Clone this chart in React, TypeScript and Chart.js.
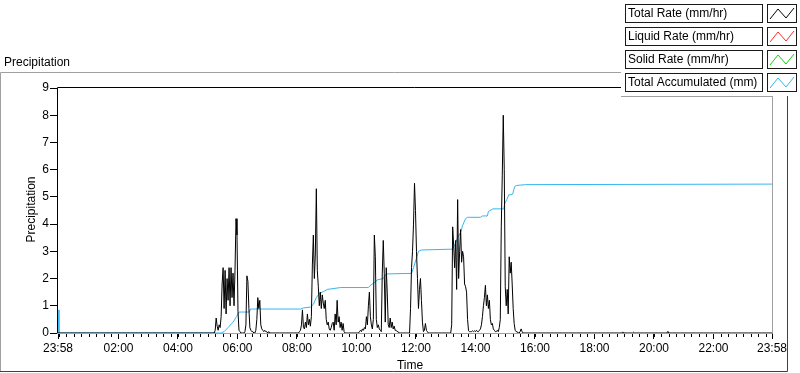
import React, { useEffect, useRef } from "react";
import { Chart, registerables } from "chart.js";

Chart.register(...registerables);

// ---------- data ----------
const SAMPLE_MINUTES = 2; // logger sample interval
const DAY_MINUTES = 1440; // x axis spans 23:58 -> 23:58 next day

const xTickMinutes = [0, 122, 242, 362, 482, 602, 722, 842, 962, 1082, 1202, 1322, 1440];
const xTickLabels = ["23:58", "02:00", "04:00", "06:00", "08:00", "10:00", "12:00", "14:00", "16:00", "18:00", "20:00", "22:00", "23:58"];
const yTickValues = [0, 1, 2, 3, 4, 5, 6, 7, 8, 9];

const seriesNames = ["Total Rate (mm/hr)", "Liquid Rate (mm/hr)", "Solid Rate (mm/hr)", "Total Accumulated (mm)"];
const seriesColors = ["#000000", "#ff2a2a", "#14d214", "#35b6f0"];

// start minute (after 23:58) of each rain burst of the total rate
const burstStarts = [315, 485, 606, 709, 790];
const burst1 = [0, 0.1, 0.55, 0.25, 0.1, 0.3, 0.2, 0.6, 1.8, 2.4, 0.9, 2.3, 0.7, 2.0, 1.2, 2.4, 1.0, 2.4, 1.3, 2.2, 1.0, 2.3, 4.2, 3.6, 0.8, 0.1, 0.05, 0, 0, 0, 0, 0.05, 0.3, 2.1, 1.9, 0.9, 0.2, 0.1, 0.05, 0.05, 0, 0, 0.1, 0.5, 1.3, 0.9, 1.2, 0.3, 0.15, 0.1, 0.05, 0.1, 0.05, 0.05, 0, 0.05, 0];
const burst2 = [0, 0.05, 0.1, 0.3, 0.85, 0.2, 0.15, 0.4, 0.2, 0.7, 0.3, 0.5, 0.25, 0.6, 2.5, 3.6, 2.0, 2.9, 5.3, 2.3, 1.7, 1.0, 1.5, 0.9, 1.4, 1.1, 0.9, 1.2, 0.5, 0.3, 0.4, 0.15, 0.1, 0.2, 0.35, 0.4, 0.1, 0.7, 0.3, 1.2, 0.4, 0.6, 0.2, 0.4, 0.1, 0.35, 0.05, 0, 0, 0, 0];
const burst3 = [0, 0.05, 0.1, 0.05, 0.15, 0.1, 0.2, 0.15, 0.6, 0.3, 1.0, 1.5, 0.6, 0.3, 0.15, 0.5, 3.6, 2.8, 0.5, 0.2, 0.3, 0.15, 0.1, 0.05, 2.2, 3.4, 2.2, 0.4, 2.4, 1.5, 0.3, 0.2, 0.55, 0.2, 0.4, 0.15, 0.25, 0.1, 0.1, 0.05, 0.05, 0, 0];
const burst4 = [0, 0.9, 2.4, 3.0, 4.0, 5.5, 4.5, 3.0, 2.0, 0.9, 1.6, 2.0, 1.2, 0.4, 0.05, 0.1, 0.35, 0.1, 0.05, 0];
const burst5 = [0, 0, 0.3, 3.9, 3.2, 2.4, 3.4, 1.6, 4.9, 2.0, 3.0, 3.8, 2.6, 3.0, 2.8, 1.8, 1.7, 1.5, 0.5, 0.08, 0.05, 0.05, 0.05, 0.08, 0.05, 0.08, 0.05, 0.1, 0.05, 0.05, 0.1, 0.15, 0.3, 0.6, 1.0, 1.3, 1.75, 1.0, 1.4, 0.9, 1.2, 0.5, 0.3, 0.35, 0.15, 0.1, 0.05, 0.05, 0.1, 0.05, 0.2, 0.5, 3.9, 5.8, 8.0, 6.0, 1.7, 1.0, 1.6, 0.7, 2.8, 2.2, 2.6, 1.8, 0.9, 0.35, 0.1, 0.05, 0.05, 0, 0, 0.05, 0.15, 0.05, 0];
const lateMinutes = [1139, 1161, 1230];
const lateValues = [0.04, 0.03, 0.06];

const accumMinutes = [0, 2, 329, 335, 343, 353, 360, 365, 386, 388, 489, 495, 509, 515, 521, 527, 535, 543, 570, 626, 630, 638, 644, 656, 662, 713, 717, 723, 727, 733, 796, 800, 806, 812, 816, 822, 826, 852, 856, 866, 868, 877, 899, 901, 905, 909, 917, 921, 925, 943, 1440];
const accumValues = [0.85, 0, 0, 0.05, 0.2, 0.4, 0.6, 0.77, 0.77, 0.88, 0.88, 0.92, 0.95, 1.05, 1.3, 1.45, 1.52, 1.6, 1.67, 1.67, 1.75, 1.85, 1.95, 2.0, 2.17, 2.19, 2.4, 2.75, 3.0, 3.05, 3.08, 3.23, 3.5, 3.7, 3.95, 4.2, 4.25, 4.25, 4.3, 4.3, 4.46, 4.56, 4.56, 4.75, 4.9, 5.07, 5.1, 5.38, 5.42, 5.45, 5.47];

const liquidRate: { x: number; y: number }[] = [];
const solidRate: { x: number; y: number }[] = [];

// ---------- build tables ----------
function buildTotal() {
  const pts: { x: number; y: number }[] = [{ x: 0, y: 0 }];
  const bursts = [burst1, burst2, burst3, burst4, burst5];
  bursts.forEach((vals, i) => {
    vals.forEach((v, j) => pts.push({ x: burstStarts[i] + j * SAMPLE_MINUTES, y: v }));
  });
  lateMinutes.forEach((m, i) => {
    pts.push({ x: m - SAMPLE_MINUTES, y: 0 });
    pts.push({ x: m, y: lateValues[i] });
    pts.push({ x: m + SAMPLE_MINUTES, y: 0 });
  });
  pts.push({ x: DAY_MINUTES, y: 0 });
  pts.sort((a, b) => a.x - b.x);
  return pts;
}

const FONT = "'Liberation Sans', Arial, sans-serif";

const framePlugin = {
  id: "labviewFrame",
  beforeDraw(chart: any) {
    const ctx = chart.ctx;
    ctx.save();
    ctx.fillStyle = "#ffffff";
    ctx.fillRect(0, 0, chart.width, chart.height);
    ctx.restore();
  },
  afterDraw(chart: any) {
    const ctx = chart.ctx;
    const a = chart.chartArea;
    const xs = chart.scales.x;
    ctx.save();
    // outer panel frame
    ctx.lineWidth = 1;
    ctx.strokeStyle = "#a0a0a0";
    ctx.beginPath();
    ctx.moveTo(0.5, 371);
    ctx.lineTo(0.5, 72.5);
    ctx.lineTo(788, 72.5);
    ctx.stroke();
    ctx.strokeStyle = "#404040";
    ctx.beginPath();
    ctx.moveTo(0, 371.5);
    ctx.lineTo(787.5, 371.5);
    ctx.lineTo(787.5, 72);
    ctx.stroke();

    // plot area frame
    ctx.strokeStyle = "#000000";
    ctx.beginPath();
    ctx.moveTo(a.left - 0.5, a.bottom);
    ctx.lineTo(a.left - 0.5, a.top - 0.5);
    ctx.lineTo(a.right, a.top - 0.5);
    ctx.stroke();
    ctx.strokeStyle = "#a0a0a0";
    ctx.beginPath();
    ctx.moveTo(a.left - 1, a.bottom + 0.5);
    ctx.lineTo(a.right + 0.5, a.bottom + 0.5);
    ctx.lineTo(a.right + 0.5, a.top - 1);
    ctx.stroke();

    // minor x ticks every 15 minutes from 00:00
    ctx.strokeStyle = "#000000";
    ctx.beginPath();
    for (let m = 2; m < DAY_MINUTES; m += 15) {
      const px = Math.round(xs.getPixelForValue(m)) + 0.5;
      ctx.moveTo(px, a.bottom + 1);
      ctx.lineTo(px, a.bottom + 4);
    }
    ctx.stroke();

    // titles
    ctx.fillStyle = "#000000";
    ctx.font = `12px ${FONT}`;
    ctx.textAlign = "left";
    ctx.textBaseline = "alphabetic";
    ctx.fillText("Precipitation", 4, 66);
    ctx.textAlign = "center";
    ctx.fillText("Time", (a.left + a.right) / 2 - 5, 369);
    ctx.save();
    ctx.translate(35, (a.top + a.bottom) / 2 - 1);
    ctx.rotate(-Math.PI / 2);
    ctx.fillText("Precipitation", 0, 0);
    ctx.restore();

    // legend panel
    ctx.fillStyle = "#ffffff";
    ctx.fillRect(621, 0, 179, 96);
    ctx.strokeStyle = "#a0a0a0";
    ctx.beginPath();
    ctx.moveTo(621, 96.5);
    ctx.lineTo(773, 96.5);
    ctx.stroke();
    chart.data.datasets.forEach((ds: any, i: number) => {
      const y0 = 4 + i * 23;
      ctx.strokeStyle = "#1a1a1a";
      ctx.lineWidth = 1;
      ctx.strokeRect(625.5, y0 + 0.5, 137, 18);
      ctx.strokeRect(767.5, y0 + 0.5, 29, 18);
      ctx.fillStyle = "#000000";
      ctx.textAlign = "left";
      ctx.textBaseline = "middle";
      ctx.font = `12px ${FONT}`;
      ctx.fillText(ds.label, 628, y0 + 10);
      ctx.strokeStyle = ds.borderColor;
      ctx.beginPath();
      ctx.moveTo(770, y0 + 15);
      ctx.lineTo(778, y0 + 5);
      ctx.lineTo(786, y0 + 14);
      ctx.lineTo(794, y0 + 4);
      ctx.stroke();
    });
    ctx.restore();
  },
};

export default function App() {
  const ref = useRef<HTMLCanvasElement | null>(null);
  useEffect(() => {
    if (!ref.current) return;
    const accum = accumMinutes.map((m, i) => ({ x: m, y: accumValues[i] }));
    const chart = new Chart(ref.current, {
      type: "line",
      data: {
        datasets: [
          { label: seriesNames[0], data: buildTotal(), borderColor: seriesColors[0], borderWidth: 1, pointRadius: 0, order: 0 },
          { label: seriesNames[1], data: liquidRate, borderColor: seriesColors[1], borderWidth: 1, pointRadius: 0, order: 1 },
          { label: seriesNames[2], data: solidRate, borderColor: seriesColors[2], borderWidth: 1, pointRadius: 0, order: 2 },
          { label: seriesNames[3], data: accum, borderColor: seriesColors[3], borderWidth: 1, pointRadius: 0, order: 3 },
        ],
      },
      options: {
        animation: false,
        responsive: false,
        maintainAspectRatio: false,
        layout: { padding: { top: 88, right: 28, left: 0, bottom: 0 } },
        plugins: { legend: { display: false }, tooltip: { enabled: false }, title: { display: false } },
        elements: { line: { tension: 0 }, point: { radius: 0 } },
        scales: {
          x: {
            type: "linear",
            min: 0,
            max: DAY_MINUTES,
            afterFit(s: any) {
              s.height = 40;
            },
            afterBuildTicks(s: any) {
              s.ticks = xTickMinutes.map((v) => ({ value: v }));
            },
            ticks: {
              autoSkip: false,
              maxRotation: 0,
              minRotation: 0,
              padding: 2,
              color: "#000000",
              font: { family: FONT, size: 12 },
              callback: (v: any) => xTickLabels[xTickMinutes.indexOf(Number(v))],
            },
            grid: { drawOnChartArea: false, drawTicks: true, tickLength: 6, tickColor: "#000000", tickWidth: 1 },
            border: { display: false },
          },
          y: {
            type: "linear",
            min: 0,
            max: 9,
            afterFit(s: any) {
              s.width = 58;
            },
            afterBuildTicks(s: any) {
              s.ticks = yTickValues.map((v) => ({ value: v }));
            },
            ticks: {
              padding: 1,
              color: "#000000",
              font: { family: FONT, size: 12 },
              callback: (v: any) => String(v),
            },
            grid: { drawOnChartArea: false, drawTicks: true, tickLength: 8, tickColor: "#000000", tickWidth: 1 },
            border: { display: false },
          },
        },
      },
      plugins: [framePlugin],
    });
    return () => chart.destroy();
  }, []);
  return (
    <div style={{ position: "absolute", left: 0, top: 0, width: 800, height: 373, background: "#fff" }}>
      <canvas ref={ref} width={800} height={373} style={{ width: 800, height: 373, display: "block" }} />
    </div>
  );
}
